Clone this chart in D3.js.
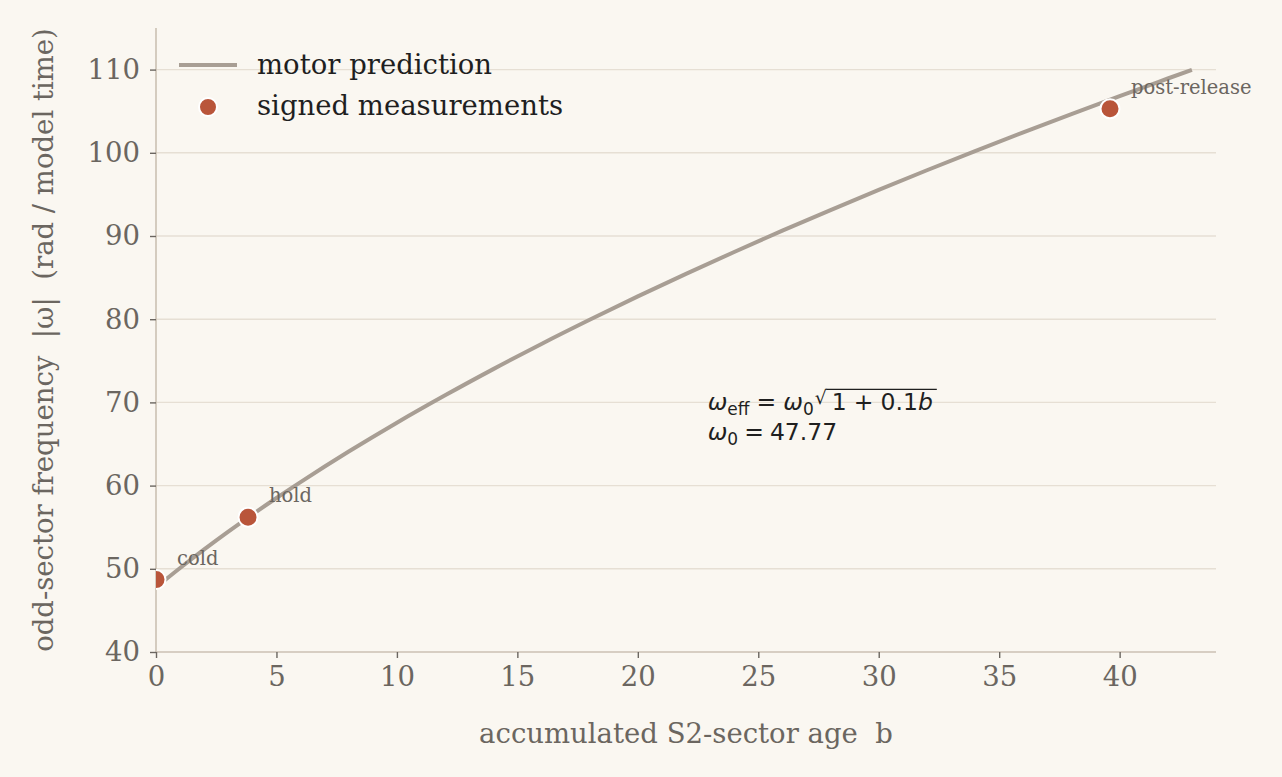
<!DOCTYPE html>
<html>
<head>
<meta charset="utf-8">
<script src="https://cdn.jsdelivr.net/npm/d3@7"></script>
<style>
  body { margin: 0; background: #faf7f1; }
  svg { display: block; }
  .tick text { font-family: "DejaVu Serif", serif; fill: #6b6660; }
</style>
</head>
<body>
<svg id="chart"></svg>
<script>
// prediction curve, sampled
const predB = [0, 1, 2, 3, 4, 5, 6, 8, 10, 12, 14, 16, 18, 20, 22, 24, 26, 28, 30, 32, 34, 36, 38, 40, 42, 43];
const predW = [47.77, 50.10, 52.33, 54.47, 56.52, 58.51, 60.42, 64.09, 67.56, 70.85, 74.00, 77.03, 79.93, 82.74,
               85.45, 88.08, 90.64, 93.12, 95.54, 97.90, 100.20, 102.46, 104.66, 106.82, 108.93, 109.98];

// measurements
const measLabels = ['cold', 'hold', 'post-release'];
const measB = [0.0, 3.82, 39.6];
const measW = [48.7, 56.2, 105.3];

const xTicks = [0, 5, 10, 15, 20, 25, 30, 35, 40];
const yTicks = [40, 50, 60, 70, 80, 90, 100, 110];

const W = 1282, H = 777;
const margin = { top: 28, right: 66, bottom: 125, left: 156 };
const width = W - margin.left - margin.right;
const height = H - margin.top - margin.bottom;

const svg = d3.select('#chart').attr('width', W).attr('height', H);
svg.append('rect').attr('width', W).attr('height', H).attr('fill', '#faf7f1');

svg.append('defs').append('clipPath').attr('id', 'plot-clip')
    .append('rect').attr('width', width).attr('height', height);

const chart = svg.append('g').attr('transform', `translate(${margin.left}, ${margin.top})`);

const x = d3.scaleLinear().domain([0, 44]).range([0, width]);
const y = d3.scaleLinear().domain([40, 115]).range([height, 0]);

// grid
chart.append('g').selectAll('line').data(yTicks.slice(1)).join('line')
    .attr('x1', 0).attr('x2', width)
    .attr('y1', d => y(d)).attr('y2', d => y(d))
    .attr('stroke', '#e6dfd4').attr('stroke-width', 1.4);

// axes
const xAxisG = chart.append('g').attr('transform', `translate(0, ${height})`)
    .call(d3.axisBottom(x).tickValues(xTicks).tickSize(6).tickPadding(8));
const yAxisG = chart.append('g')
    .call(d3.axisLeft(y).tickValues(yTicks).tickSize(6).tickPadding(10));

[xAxisG, yAxisG].forEach(g => {
    g.select('.domain').attr('stroke', '#cbc0b3').attr('stroke-width', 1.6);
    g.selectAll('.tick line').attr('stroke', '#6b6660').attr('stroke-width', 1.4);
    g.selectAll('.tick text').style('font-size', '27.5px');
});
xAxisG.select('.domain').attr('d', `M0,0H${width}`);
yAxisG.select('.domain').attr('d', `M0,${height}V0`);

// axis labels
svg.append('text')
    .attr('x', margin.left + width / 2).attr('y', 743)
    .attr('text-anchor', 'middle')
    .style('font-family', 'DejaVu Serif').style('font-size', '27.5px').attr('fill', '#6b6660')
    .text('accumulated S2-sector age\u00a0\u00a0b');

svg.append('text')
    .attr('transform', `translate(53, ${margin.top + height / 2}) rotate(-90)`)
    .attr('text-anchor', 'middle')
    .style('font-family', 'DejaVu Serif').style('font-size', '27.5px').attr('fill', '#6b6660')
    .text('odd-sector frequency\u00a0\u00a0|ω|\u00a0\u00a0(rad / model time)');

const plot = chart.append('g').attr('clip-path', 'url(#plot-clip)');

// prediction line
const line = d3.line().x((d, i) => x(predB[i])).y(d => y(d)).curve(d3.curveMonotoneX);
plot.append('path').datum(predW)
    .attr('d', line)
    .attr('fill', 'none').attr('stroke', '#a89e94').attr('stroke-width', 4);

// measurement dots
const meas = measLabels.map((l, i) => ({ label: l, b: measB[i], w: measW[i] }));
plot.selectAll('.marker').data(meas).join('circle')
    .attr('class', 'marker')
    .attr('cx', d => x(d.b)).attr('cy', d => y(d.w))
    .attr('r', 9.5)
    .attr('fill', '#b9553a').attr('stroke', '#ffffff').attr('stroke-width', 2);

chart.selectAll('.plabel').data(meas).join('text')
    .attr('class', 'plabel')
    .attr('x', d => x(d.b) + 21).attr('y', d => y(d.w) - 15)
    .style('font-family', 'DejaVu Serif').style('font-size', '19.5px').attr('fill', '#6b6660')
    .text(d => d.label);

// formula annotation
const ann = chart.append('g').attr('transform', `translate(${x(22.9)}, ${y(70)})`)
    .style('font-family', 'DejaVu Sans').style('font-size', '23.5px').attr('fill', '#1f1f1f');
const l1 = ann.append('text').attr('x', 0).attr('y', 8);
l1.append('tspan').style('font-style', 'italic').text('ω');
l1.append('tspan').attr('dy', 5).style('font-size', '17px').text('eff');
l1.append('tspan').attr('dy', -5).attr('dx', 7).text('=');
l1.append('tspan').attr('dx', 7).style('font-style', 'italic').text('ω');
l1.append('tspan').attr('dy', 5).style('font-size', '17px').text('0');
const rad = l1.append('tspan').attr('dy', -11).attr('dx', 1).style('font-size', '19px').text('√');
l1.append('tspan').attr('dy', 6).attr('dx', 5).text('1');
l1.append('tspan').attr('dx', 7).text('+');
l1.append('tspan').attr('dx', 7).text('0.1');
const lastT = l1.append('tspan').style('font-style', 'italic').text('b');
const rb = rad.node().getBBox();
const lb = lastT.node().getBBox();
ann.append('line')
    .attr('x1', rb.x + rb.width - 1.5).attr('x2', lb.x + lb.width + 4)
    .attr('y1', rb.y + 3).attr('y2', rb.y + 3)
    .attr('stroke', '#1f1f1f').attr('stroke-width', 1.2);
const l2 = ann.append('text').attr('x', 0).attr('y', 38);
l2.append('tspan').style('font-style', 'italic').text('ω');
l2.append('tspan').attr('dy', 5).style('font-size', '17px').text('0');
l2.append('tspan').attr('dy', -5).attr('dx', 6).text('=');
l2.append('tspan').attr('dx', 6).text('47.77');

// legend
const legend = chart.append('g').attr('transform', 'translate(23, 37)');
legend.append('line').attr('x1', 0).attr('x2', 58).attr('y1', 0).attr('y2', 0)
    .attr('stroke', '#a89e94').attr('stroke-width', 4);
legend.append('circle').attr('cx', 29).attr('cy', 42).attr('r', 9)
    .attr('fill', '#b9553a').attr('stroke', '#ffffff').attr('stroke-width', 2);
legend.selectAll('text').data(['motor prediction', 'signed measurements']).join('text')
    .attr('x', 78).attr('y', (d, i) => i * 41 + 9)
    .style('font-family', 'DejaVu Serif').style('font-size', '27.5px').attr('fill', '#1f1f1f')
    .text(d => d);
</script>
</body>
</html>
